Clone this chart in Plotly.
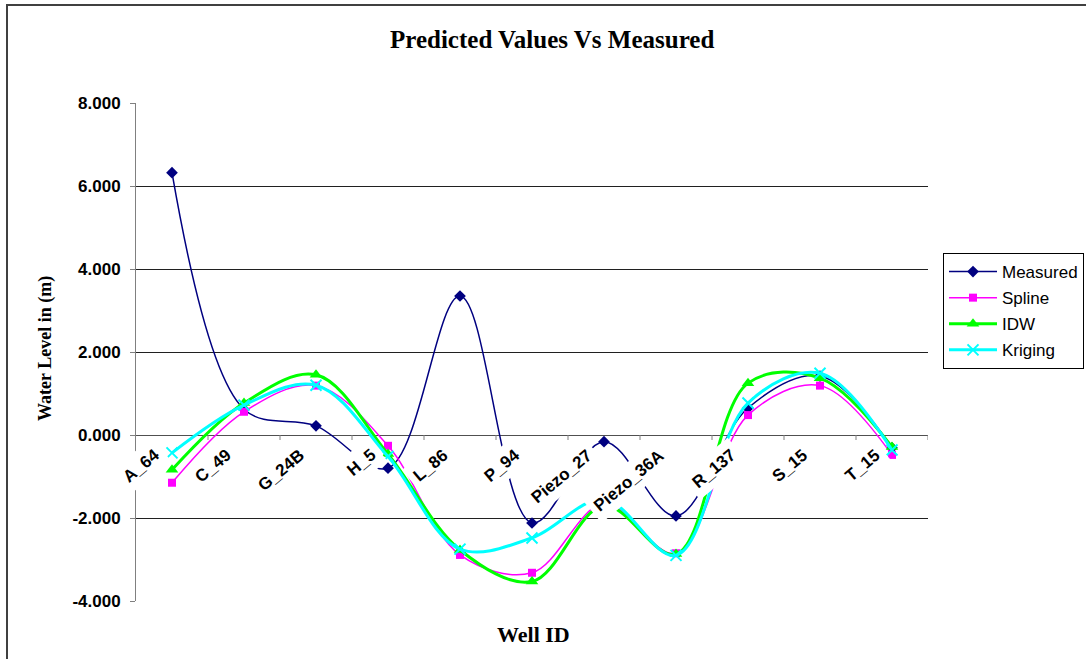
import plotly.graph_objects as go

categories = ["A_64", "C_49", "G_24B", "H_5", "L_86", "P_94", "Piezo_27",
              "Piezo_36A", "R_137", "S_15", "T_15"]
measured = [6.32, 0.62, 0.22, -0.80, 3.35, -2.12, -0.16, -1.95, 0.65, 1.42, -0.31]
spline_v = [-1.15, 0.56, 1.19, -0.26, -2.89, -3.32, -1.65, -2.85, 0.48, 1.19, -0.48]
idw = [-0.84, 0.77, 1.45, -0.46, -2.77, -3.53, -1.70, -2.87, 1.25, 1.37, -0.29]
kriging = [-0.43, 0.72, 1.20, -0.52, -2.75, -2.48, -1.55, -2.90, 0.77, 1.49, -0.36]

y_ticks = [-4, -2, 0, 2, 4, 6, 8]
y_tick_text = ["-4.000", "-2.000", "0.000", "2.000", "4.000", "6.000", "8.000"]
y_min, y_max = -4, 8

W, H = 1086, 659
L, R, T, B = 136, 158, 103, 58
PW, PH = W - L - R, H - T - B

def px_x(px):
    return (px - L) / PW

def px_y(py):
    return (H - B - py) / PH

SANS = "Liberation Sans, Arial, sans-serif"
SERIF = "Liberation Serif, Times New Roman, serif"

xs = list(range(len(categories)))
fig = go.Figure()

series = [
    ("Measured", measured, "#000080", 1.5, dict(symbol="diamond", size=9, color="#000080")),
    ("Spline", spline_v, "#FF00FF", 1.5, dict(symbol="square", size=8, color="#FF00FF")),
    ("IDW", idw, "#00FF00", 3, dict(symbol="triangle-up", size=11, color="#00FF00")),
    ("Kriging", kriging, "#00FFFF", 3, dict(symbol="x-thin", size=11, color="#00FFFF",
                                             line=dict(width=2, color="#00FFFF"))),
]
for i, (name, vals, col, lw, mk) in enumerate(series):
    fig.add_trace(go.Scatter(
        x=xs, y=vals, name=name, mode="lines+markers",
        line=dict(color=col, width=lw, shape="spline", smoothing=1.0),
        marker=mk, legendgroup=name,
    ))

annotations = []
# category labels with white background (they cover the lines like in the original)
for i, c in enumerate(categories):
    annotations.append(dict(
        x=i, y=0, xref="x", yref="y", text="<b>%s</b>" % c, showarrow=False,
        textangle=-40, xanchor="right", yanchor="top", xshift=0, yshift=-2,
        font=dict(family=SANS, size=17, color="black"), bgcolor="white", borderpad=5,
    ))

annotations += [
    dict(x=px_x(552), y=px_y(40), xref="paper", yref="paper", showarrow=False,
         text="<b>Predicted Values Vs Measured</b>", xanchor="center", yanchor="middle",
         font=dict(family=SERIF, size=25, color="black")),
    dict(x=px_x(533), y=px_y(634), xref="paper", yref="paper", showarrow=False,
         text="<b>Well ID</b>", xanchor="center", yanchor="middle",
         font=dict(family=SERIF, size=22, color="black")),
    dict(x=px_x(45), y=px_y(349), xref="paper", yref="paper", showarrow=False,
         text="<b>Water Level in (m)</b>", textangle=-90, xanchor="center", yanchor="middle",
         font=dict(family=SERIF, size=18, color="black")),
]

shapes = []
tick_len = 5 * (y_max - y_min) / PH
for i in range(len(categories)):
    shapes.append(dict(type="line", xref="x", yref="y", x0=i + 0.5, x1=i + 0.5,
                       y0=0, y1=-tick_len, line=dict(color="#808080", width=1)))
# outer chart border (left and top visible)
shapes.append(dict(type="line", xref="paper", yref="paper", x0=px_x(7), x1=px_x(7),
                   y0=px_y(4), y1=px_y(H + 5), line=dict(color="#404040", width=2)))
shapes.append(dict(type="line", xref="paper", yref="paper", x0=px_x(6), x1=px_x(W + 5),
                   y0=px_y(5), y1=px_y(5), line=dict(color="#404040", width=2)))

fig.update_layout(
    width=W, height=H,
    margin=dict(l=L, r=R, t=T, b=B, autoexpand=False),
    paper_bgcolor="white", plot_bgcolor="white",
    showlegend=True,
    legend=dict(x=px_x(943), y=px_y(253), xanchor="left", yanchor="top",
                bordercolor="black", borderwidth=1, bgcolor="white",
                font=dict(family=SANS, size=17, color="black"),
                tracegroupgap=1, itemwidth=48),
    xaxis=dict(range=[-0.5, len(categories) - 0.5], showgrid=False, zeroline=False,
               showticklabels=False, showline=False, ticks=""),
    yaxis=dict(range=[y_min, y_max], tickvals=y_ticks, ticktext=y_tick_text,
               showgrid=True, gridcolor="#202020", gridwidth=1,
               zeroline=True, zerolinecolor="#505050", zerolinewidth=1,
               showline=True, linecolor="#808080", linewidth=1,
               ticks="outside", ticklen=5, tickcolor="#808080", ticklabelstandoff=6,
               tickfont=dict(family=SANS, size=17, color="black", weight="bold")),
    annotations=annotations, shapes=shapes,
)

fig.write_html("out.html", config={"displayModeBar": False},
               post_script="document.body.style.margin='0px';document.body.style.padding='0px';")
